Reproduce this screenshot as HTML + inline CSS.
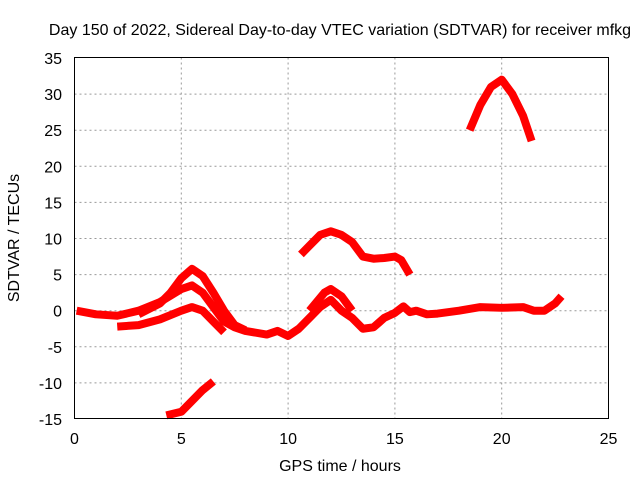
<!DOCTYPE html>
<html><head><meta charset="utf-8"><style>
body{margin:0;background:#fff}
svg{display:block;font-family:"Liberation Sans",sans-serif}
</style></head><body>
<svg id="c" width="640" height="480">
<text x="340" y="35" font-size="16" text-anchor="middle">Day 150 of 2022, Sidereal Day-to-day VTEC variation (SDTVAR) for receiver mfkg</text>
<text x="340" y="471" font-size="16" text-anchor="middle">GPS time / hours</text>
<text transform="translate(19,238) rotate(-90)" font-size="16" text-anchor="middle">SDTVAR / TECUs</text>
<g id="grid"></g><g id="marks"></g>
<rect x="74.5" y="57.5" width="534" height="361" fill="none" stroke="#000"/>
</svg>
<script>
const xTicks=[0,5,10,15,20,25];
const yTicks=[-15,-10,-5,0,5,10,15,20,25,30,35];
const seriesA=[[0.1,0],[1,-0.5],[2,-0.7],[3,0],[4,1.2],[5,3],[5.5,3.5],[6,2.5],[6.5,0.5],[7,-1.5],[7.5,-2.3],[8,-2.8],[9,-3.3],[9.5,-2.8],[10,-3.5],[10.5,-2.5],[11,-1],[11.5,0.5],[12,1.5],[12.5,0],[13,-1],[13.5,-2.5],[14,-2.3],[14.5,-1],[15,-0.3],[15.4,0.6],[15.7,-0.2],[16,0],[16.5,-0.5],[17,-0.4],[18,0],[19,0.5],[20,0.4],[21,0.5],[21.5,0],[22,0],[22.5,1],[22.8,2]];
const seriesB=[[3,-0.5],[4,1],[4.5,2.5],[5,4.5],[5.5,5.8],[6,4.8],[6.5,2.5],[7,0],[7.5,-2],[8,-2.7]];
const seriesC=[[2,-2.2],[3,-2],[4,-1.2],[5,0],[5.5,0.5],[6,0],[6.5,-1.5],[7,-3]];
const seriesD=[[4.3,-14.5],[5,-14],[5.5,-12.5],[6,-11],[6.5,-9.8]];
const seriesE=[[10.6,7.8],[11,9],[11.5,10.5],[12,11],[12.5,10.5],[13,9.5],[13.5,7.5],[14,7.2],[14.5,7.3],[15,7.5],[15.3,7],[15.7,5]];
const seriesF=[[18.5,25],[19,28.5],[19.5,31],[20,32],[20.5,30],[21,27],[21.4,23.5]];
const seriesG=[[11,0],[11.7,2.5],[12,3],[12.5,2],[13,0]];
const X=v=>74.5+v*21.36, Y=v=>310.7-v*7.22;
const NS='http://www.w3.org/2000/svg';
const g=document.getElementById('grid'), m=document.getElementById('marks');
function el(t,a,p){const e=document.createElementNS(NS,t);for(const k in a)e.setAttribute(k,a[k]);p.appendChild(e);return e;}
xTicks.forEach(t=>{
 if(t>0&&t<25){const l=el('line',{x1:X(t),x2:X(t),y1:57.5,y2:418.5,stroke:'#999','stroke-dasharray':'2,3'},g);
 
 }
 const s=el('text',{x:X(t),y:444,'font-size':16,'text-anchor':'middle'},g);s.textContent=t;
 
 
});
yTicks.forEach(t=>{
 if(t>-15&&t<35){const l=el('line',{x1:74.5,x2:608.5,y1:Y(t),y2:Y(t),stroke:'#999','stroke-dasharray':'2,3'},g);
 
 }
 const s=el('text',{x:62,y:Y(t)+6,'font-size':16,'text-anchor':'end'},g);s.textContent=t;
 
 
});
[seriesA,seriesB,seriesC,seriesD,seriesE,seriesF,seriesG].forEach((s,i)=>{
 const p=el('polyline',{points:s.map(d=>X(d[0])+','+Y(d[1])).join(' '),fill:'none',stroke:'#f00','stroke-width':8,'stroke-linejoin':'round','stroke-linecap':'butt'},m);
 
 
});
</script>
</body></html>
